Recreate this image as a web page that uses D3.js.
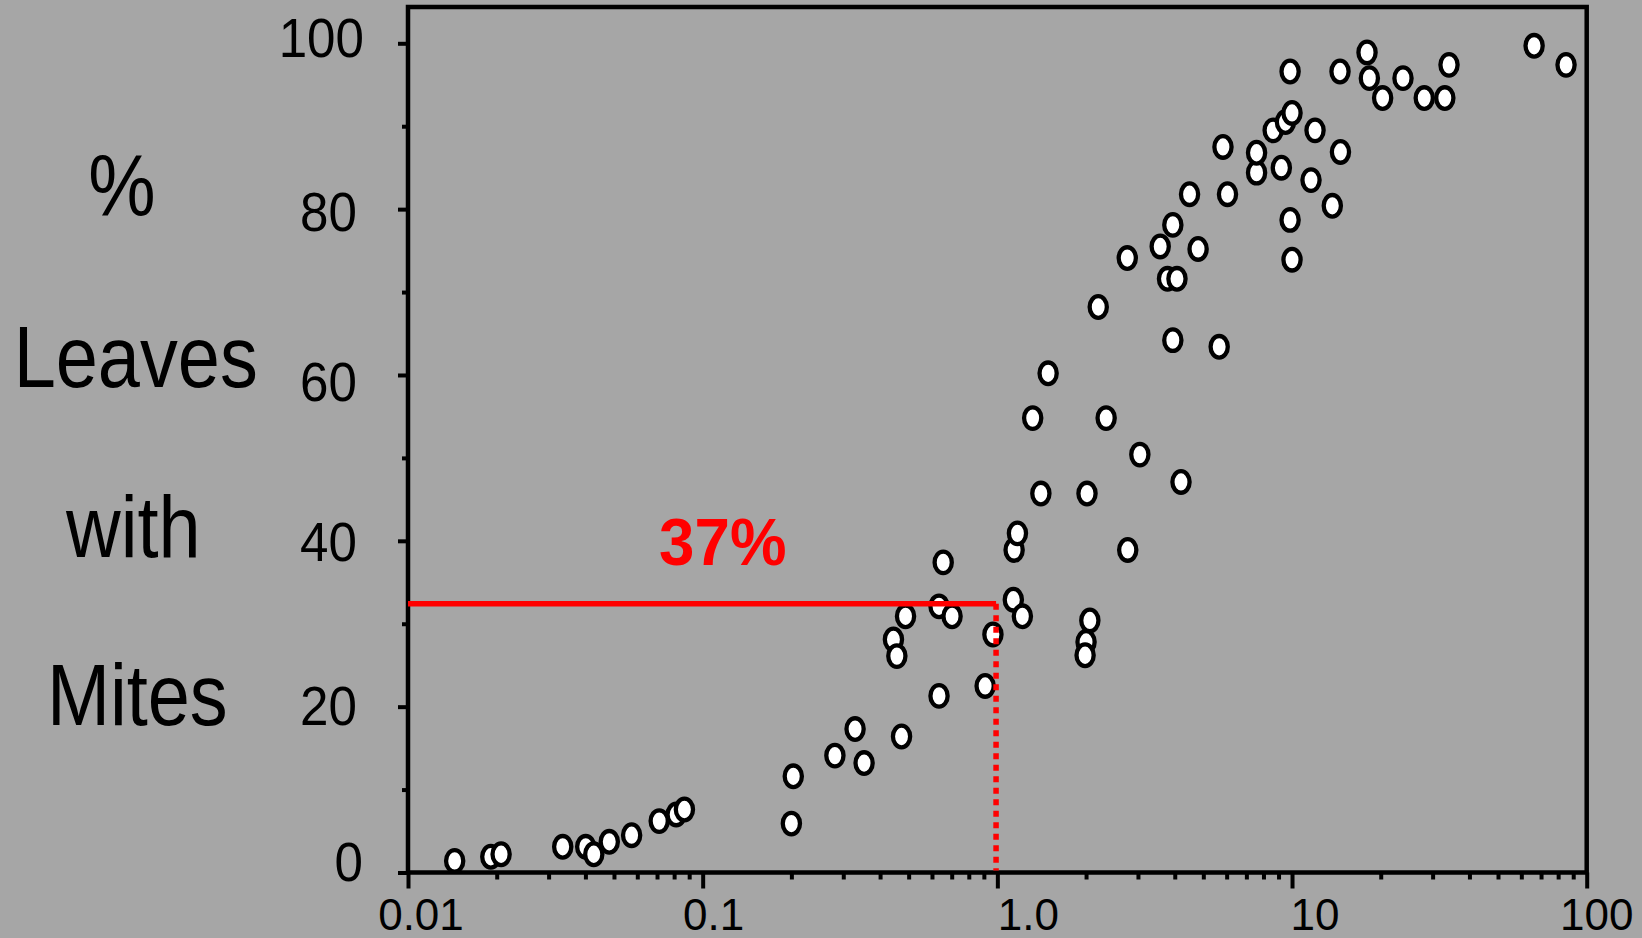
<!DOCTYPE html>
<html>
<head>
<meta charset="utf-8">
<script src="https://cdn.jsdelivr.net/npm/d3@7"></script>
<style>
  html, body { margin: 0; padding: 0; background: #a6a6a6; }
  svg { display: block; }
  text { font-family: "Liberation Sans", Arial, Helvetica, sans-serif; }
</style>
</head>
<body>
<svg id="chart" width="1642" height="938"></svg>
<script>
// ---- data ----
const xValues = [
  0.0144, 0.0191, 0.0207, 0.0335, 0.0401, 0.0427, 0.0482, 0.0574, 0.0712, 0.0813, 0.0867,
  0.200, 0.203, 0.281, 0.353, 0.329, 0.473, 0.444, 0.456, 0.488, 0.634, 0.634, 0.655, 0.702, 0.909, 0.966,
  1.133, 1.14, 1.17, 1.216, 1.405, 2.015, 4.2, 2.77, 2.06, 2.0, 1.985,
  3.045, 1.318, 2.34, 1.487, 3.94, 5.66, 2.2, 3.78, 4.07, 10.0,
  2.76, 3.57, 4.8, 9.85, 3.94, 13.7, 4.49, 6.04, 11.6, 7.58, 9.2, 14.6, 7.58, 5.83,
  8.63, 11.97, 9.5, 10.0, 9.85, 14.55, 17.97, 18.3, 23.8, 20.3, 28.1, 33.0, 34.1, 66.3, 85.1
];
const yValues = [
  1.4, 1.9, 2.2, 3.1, 3.1, 2.2, 3.7, 4.5, 6.2, 7.0, 7.6,
  5.9, 11.6, 14.1, 13.2, 17.3, 16.4, 28.1, 26.1, 30.9, 21.3, 32.1, 37.4, 30.9, 22.5, 28.7,
  32.9, 38.9, 40.9, 30.9, 45.7, 45.7, 47.1, 38.9, 30.4, 27.8, 26.2,
  50.4, 54.8, 54.8, 60.2, 64.2, 63.4, 68.2, 71.6, 71.6, 73.9,
  74.1, 75.5, 75.2, 78.7, 78.1, 80.4, 81.8, 81.8, 83.5, 84.4, 85.0, 86.9, 86.8, 87.5,
  89.5, 89.5, 90.5, 91.6, 96.6, 96.6, 98.9, 95.8, 95.8, 93.4, 93.4, 93.4, 97.4, 99.7, 97.4
];
const xMajorTicks = [0.01, 0.1, 1, 10, 100];
const xTickLabels = ["0.01", "0.1", "1.0", "10", "100"];
const yMajorTicks = [0, 20, 40, 60, 80, 100];
const yMinorTicks = [10, 30, 50, 70, 90];
const yTitleLines = ["%", "Leaves", "with", "Mites"];
const refX = 0.99;   // threshold dose
const refY = 32.4;   // horizontal reference level
const refLabel = "37%";

(function draw() {
  const svg = d3.select("#chart");
  const pLeft = 408, pRight = 1586.7, pBottom = 872.5, pTop = 7;
  const x = d3.scaleLog().domain([0.01, 100]).range([pLeft, pRight]);
  const y = d3.scaleLinear().domain([0, 100]).range([pBottom, 43.3]);

  const xMinorTicks = [];
  [0.01, 0.1, 1, 10].forEach(d => {
    for (let k = 2; k <= 9; k++) xMinorTicks.push(+(d * k).toPrecision(3));
  });

  // frame
  svg.append("rect")
    .attr("x", pLeft).attr("y", pTop)
    .attr("width", pRight - pLeft).attr("height", pBottom - pTop)
    .attr("fill", "none").attr("stroke", "#000").attr("stroke-width", 4.5);

  function styleAxis(g) {
    g.select(".domain").remove();
    g.selectAll(".tick line").attr("stroke", "#000").attr("stroke-width", 4);
    g.selectAll(".tick text").remove();
  }

  svg.append("g").attr("transform", `translate(0,${pBottom})`)
    .call(d3.axisBottom(x).tickValues(xMajorTicks).tickSize(16).tickSizeOuter(0))
    .call(styleAxis);
  svg.append("g").attr("transform", `translate(0,${pBottom})`)
    .call(d3.axisBottom(x).tickValues(xMinorTicks).tickSize(7).tickSizeOuter(0))
    .call(styleAxis);

  svg.append("g").attr("transform", `translate(${pLeft},0)`)
    .call(d3.axisLeft(y).tickValues(yMajorTicks).tickSize(10).tickSizeOuter(0))
    .call(styleAxis);
  svg.append("g").attr("transform", `translate(${pLeft},0)`)
    .call(d3.axisLeft(y).tickValues(yMinorTicks).tickSize(6).tickSizeOuter(0))
    .call(styleAxis);

  // x tick labels
  const xLabelShift = [13, 11, 31, 23, 10];
  svg.append("g").selectAll("text").data(xMajorTicks).join("text")
    .attr("x", (d, i) => x(d) + xLabelShift[i])
    .attr("y", 930)
    .attr("text-anchor", "middle")
    .attr("font-size", 44)
    .attr("fill", "#000")
    .text((d, i) => xTickLabels[i]);

  // y tick labels
  const yLabelEnd = [363, 357, 357, 357, 357, 364];
  const yLabelDy = [-12, -2, 0, 6, 2, -6];
  svg.append("g").selectAll("text").data(yMajorTicks).join("text")
    .attr("transform", (d, i) => `translate(${yLabelEnd[i]},${y(d) + yLabelDy[i] + 20}) scale(0.93,1)`)
    .attr("text-anchor", "end")
    .attr("font-size", 55)
    .attr("fill", "#000")
    .text(d => String(d));

  // y title
  const titleBase = [215, 387, 556.7, 725];
  const titleCx = [122, 135.7, 133.3, 137.3];
  svg.append("g").selectAll("text").data(yTitleLines).join("text")
    .attr("transform", (d, i) => `translate(${titleCx[i]},${titleBase[i]}) scale(0.87,1)`)
    .attr("text-anchor", "middle")
    .attr("font-size", 87)
    .attr("fill", "#000")
    .text(d => d);

  // points
  const pts = xValues.map((v, i) => ({ x: v, y: yValues[i] }));
  svg.append("g").selectAll("ellipse").data(pts).join("ellipse")
    .attr("cx", d => x(d.x))
    .attr("cy", d => y(d.y))
    .attr("rx", 8.6).attr("ry", 10.8)
    .attr("fill", "#fff").attr("stroke", "#000").attr("stroke-width", 4.3);

  // reference lines
  svg.append("line")
    .attr("x1", pLeft).attr("x2", x(refX))
    .attr("y1", y(refY)).attr("y2", y(refY))
    .attr("stroke", "#ff0000").attr("stroke-width", 5.5);
  svg.append("line")
    .attr("x1", x(refX)).attr("x2", x(refX))
    .attr("y1", y(refY)).attr("y2", pBottom - 2)
    .attr("stroke", "#ff0000").attr("stroke-width", 5.5)
    .attr("stroke-dasharray", "6,5.5");

  // annotation
  svg.append("text")
    .attr("transform", `translate(722.8,565) scale(0.95,1)`)
    .attr("text-anchor", "middle")
    .attr("font-size", 67)
    .attr("font-weight", "bold")
    .attr("fill", "#ff0000")
    .text(refLabel);
})();
</script>
</body>
</html>
